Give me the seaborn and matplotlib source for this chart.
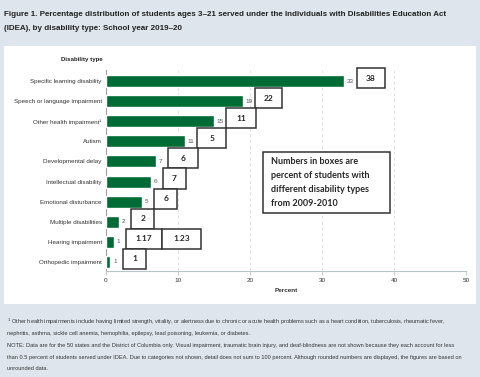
import matplotlib
matplotlib.use("Agg")
import matplotlib.pyplot as plt
from matplotlib.patches import Rectangle
import pandas as pd
import seaborn as sns

# 2019-20 shares (bars) and the 2009-10 shares written in the boxes
disability_types = [
    "Specific learning disability",
    "Speech or language impairment",
    "Other health impairment\u00b9",
    "Autism",
    "Developmental delay",
    "Intellectual disability",
    "Emotional disturbance",
    "Multiple disabilities",
    "Hearing impairment",
    "Orthopedic impairment",
]
pct_2019 = [33.1, 19.0, 15.0, 11.0, 6.9, 6.2, 5.0, 1.8, 1.1, 0.6]
pct_2019_labels = ["33", "19", "15", "11", "7", "6", "5", "2", "1", "1"]
pct_2009_labels = [["38"], ["22"], ["11"], ["5"], ["6"], ["7"], ["6"], ["2"],
                   ["1.17", "1.23"], ["1"]]
box_widths = [[3.9], [3.7], [4.1], [4.0], [4.2], [3.2], [3.2], [3.2],
              [5.0, 5.4], [3.3]]

GREEN = "#006b35"
BG = "#dfe5ec"
W, H = 480, 377


def fx(px):
    return px / W


def fy(py):
    return 1 - py / H


sns.set_style("white")
plt.rcParams["font.family"] = ["Liberation Sans", "DejaVu Sans"]

fig = plt.figure(figsize=(4.8, 3.77), dpi=100)
fig.patch.set_facecolor(BG)
fig.patches.append(Rectangle((fx(4), fy(304)), fx(476) - fx(4), fy(46) - fy(304),
                             transform=fig.transFigure, facecolor="white",
                             edgecolor="none", zorder=-5))

ax = fig.add_axes([fx(106), fy(271), fx(466) - fx(106), fy(70) - fy(271)])
ax.set_facecolor("none")
ax.set_zorder(2)

df = pd.DataFrame({"type": disability_types, "pct": pct_2019})
sns.barplot(data=df, y="type", x="pct", color=GREEN, saturation=1,
            width=0.6, ax=ax, zorder=3)
ax.bar_label(ax.containers[0], labels=pct_2019_labels, padding=2,
             fontsize=4.6, color="#555555")

# boxes with the 2009-10 numbers
for i, (labs, widths) in enumerate(zip(pct_2009_labels, box_widths)):
    x0 = pct_2019[i] + 1.7
    for lab, w in zip(labs, widths):
        ax.add_patch(Rectangle((x0, i - 0.65), w, 1.0, facecolor="white",
                               edgecolor="#333333", lw=1.1, zorder=4,
                               clip_on=False))
        ax.text(x0 + w / 2, i - 0.15, lab, ha="center", va="center",
                fontsize=6, fontweight="bold", family="Lato", zorder=5)
        x0 += w

ax.add_patch(Rectangle((21.8, 3.53), 17.6, 3.04, facecolor="white",
                       edgecolor="#333333", lw=1.1, zorder=4))
ax.text(22.9, 5.05,
        "Numbers in boxes are\npercent of students with\n"
        "different disability types\nfrom 2009-2010",
        ha="left", va="center", fontsize=6.5, fontweight="bold",
        family="Lato", linespacing=1.75, zorder=5)

ax.set_xlim(0, 50)
ax.set_ylim(9.45, -0.55)
ax.set_xticks(range(0, 51, 10))
ax.grid(axis="x", color="#dcdcdc", ls=(0, (4, 3)), lw=0.6, zorder=0)
ax.grid(axis="y", visible=False)
ax.tick_params(axis="y", length=0, pad=3, labelsize=4.5, labelcolor="#333333")
ax.tick_params(axis="x", length=3, width=0.6, color="#b8c4cc", pad=2,
               labelsize=4.6, labelcolor="#333333", bottom=True)
ax.set_ylabel("")
ax.set_xlabel("Percent", fontsize=4.6, fontweight="bold", color="#333333",
              labelpad=4)
for s in ["top", "right"]:
    ax.spines[s].set_visible(False)
ax.spines["left"].set_color("#a0a0a0")
ax.spines["left"].set_linewidth(0.8)
ax.spines["bottom"].set_color("#b8c4cc")
ax.spines["bottom"].set_linewidth(0.8)

fig.text(fx(103), fy(59), "Disability type", ha="right", va="center",
         fontsize=4.4, fontweight="bold", color="#222222")

fig.text(fx(4), fy(15),
         "Figure 1. Percentage distribution of students ages 3\u201321 served under "
         "the Individuals with Disabilities Education Act",
         ha="left", va="center", fontsize=5.8, fontweight="bold", color="#222222")
fig.text(fx(4), fy(29), "(IDEA), by disability type: School year 2019\u201320",
         ha="left", va="center", fontsize=5.8, fontweight="bold", color="#222222")

notes = [
    (322, "$^1$ Other health impairments include having limited strength, vitality, or alertness due to chronic or acute health problems such as a heart condition, tuberculosis, rheumatic fever,"),
    (333, "nephritis, asthma, sickle cell anemia, hemophilia, epilepsy, lead poisoning, leukemia, or diabetes."),
    (346, "NOTE: Data are for the 50 states and the District of Columbia only. Visual impairment, traumatic brain injury, and deaf-blindness are not shown because they each account for less"),
    (357, "than 0.5 percent of students served under IDEA. Due to categories not shown, detail does not sum to 100 percent. Although rounded numbers are displayed, the figures are based on"),
    (369, "unrounded data."),
]
for py, txt in notes:
    fig.text(fx(7), fy(py), txt, ha="left", va="center", fontsize=4.05,
             color="#333333")

fig.savefig("out.png", dpi=100, facecolor=BG)
